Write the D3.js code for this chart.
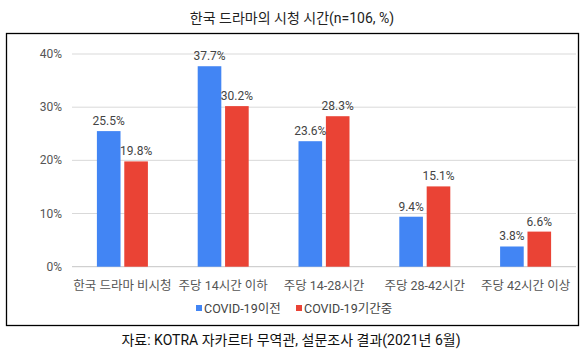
<!DOCTYPE html>
<html><head><meta charset="utf-8">
<script src="https://cdn.jsdelivr.net/npm/d3@7"></script>
<style>
body{margin:0;background:#fff;}
text{font-family:Roboto,"Noto Sans CJK KR",sans-serif;}
</style></head>
<body><svg id="c" width="584" height="355"></svg>
<script>
const categories = ["한국 드라마 비시청","주당 14시간 이하","주당 14-28시간","주당 28-42시간","주당 42시간 이상"];
const seriesNames = ["COVID-19이전","COVID-19기간중"];
const before = [25.5, 37.7, 23.6, 9.4, 3.8];
const during = [19.8, 30.2, 28.3, 15.1, 6.6];
const yTicks = [0, 10, 20, 30, 40];
const colors = ["#4285F4","#EA4335"];
const title = "한국 드라마의 시청 시간(n=106, %)";
const source = "자료: KOTRA 자카르타 무역관, 설문조사 결과(2021년 6월)";

const svg = d3.select("#c");
const L = 72, R = 576, T = 54, B = 266.7;
const x = d3.scaleBand().domain(categories).range([L, R]);
const y = d3.scaleLinear().domain([0, 40]).range([B, T]);
const x1 = d3.scaleBand().domain([0,1]).range([0, 51]).paddingInner(7/51);

svg.append("rect").attr("x",6.5).attr("y",33.5).attr("width",572).attr("height",292)
  .attr("fill","none").attr("stroke","#000").attr("stroke-width",1.3);

svg.append("text").attr("x",292).attr("y",23).attr("text-anchor","middle")
  .attr("font-size",14).attr("fill","#222").text(title);

// grid
svg.append("g").selectAll("line").data(yTicks).join("line")
  .attr("x1",L).attr("x2",R).attr("y1",d=>y(d)).attr("y2",d=>y(d))
  .attr("stroke",d=>d===0?"#c6c6c6":"#d9d9d9").attr("stroke-width",1);

svg.append("g").selectAll("text").data(yTicks).join("text")
  .attr("x",62).attr("y",d=>y(d)+4).attr("text-anchor","end")
  .attr("font-size",12).attr("fill","#555").text(d=>d+"%");

const data = categories.map((c,i)=>({c, vals:[before[i], during[i]]}));
const g = svg.append("g").selectAll("g").data(data).join("g")
  .attr("transform",d=>`translate(${x(d.c)+x.bandwidth()/2-25.5},0)`);
g.selectAll("rect").data(d=>d.vals.map((v,k)=>({v,k}))).join("rect")
  .attr("x",d=>x1(d.k)).attr("width",x1.bandwidth())
  .attr("y",d=>y(d.v)).attr("height",d=>B-y(d.v)).attr("fill",d=>colors[d.k]);
g.selectAll("text").data(d=>d.vals.map((v,k)=>({v,k}))).join("text")
  .attr("x",d=>x1(d.k)+x1.bandwidth()/2).attr("y",d=>y(d.v)-6)
  .attr("text-anchor","middle").attr("font-size",12).attr("fill","#444")
  .text(d=>d.v.toFixed(1)+"%");

svg.append("g").selectAll("text").data(categories).join("text")
  .attr("x",d=>x(d)+x.bandwidth()/2).attr("y",290).attr("text-anchor","middle")
  .attr("font-size",12.5).attr("fill","#555").text(d=>d);

// legend
const lx = [196, 296];
const lg = svg.append("g").selectAll("g").data(seriesNames).join("g")
  .attr("transform",(d,i)=>`translate(${lx[i]},308)`);
lg.append("rect").attr("x",0).attr("y",-3).attr("width",6).attr("height",6).attr("fill",(d,i)=>colors[i]);
lg.append("text").attr("x",8).attr("y",4.5).attr("font-size",12.5).attr("fill","#444").text(d=>d);

svg.append("text").attr("x",291).attr("y",345).attr("text-anchor","middle")
  .attr("font-size",14).attr("fill","#111").text(source);
</script></body></html>
